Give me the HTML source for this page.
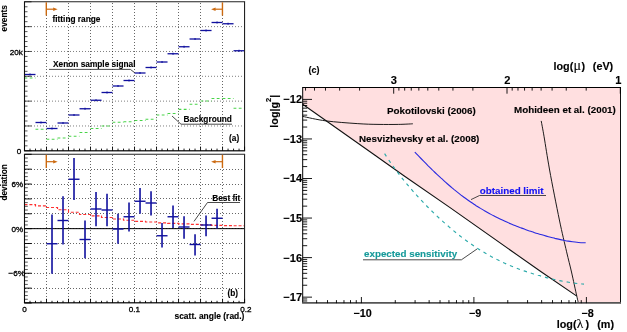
<!DOCTYPE html><html><head><meta charset="utf-8"><style>html,body{margin:0;padding:0;background:#fff}svg{display:block;will-change:transform}text{font-family:"Liberation Sans",sans-serif;font-weight:bold;fill:#000;stroke:#000;stroke-width:0.12px}.r{font-weight:normal;stroke-width:0.32px}</style></head><body>
<svg width="627" height="332" viewBox="0 0 627 332">
<rect width="627" height="332" fill="#fff"/>
<line x1="46.50" y1="3" x2="46.50" y2="150.8" stroke="#000" stroke-opacity="0.6" stroke-width="1" stroke-dasharray="1 2"/>
<line x1="68.50" y1="3" x2="68.50" y2="150.8" stroke="#000" stroke-opacity="0.6" stroke-width="1" stroke-dasharray="1 2"/>
<line x1="90.50" y1="3" x2="90.50" y2="150.8" stroke="#000" stroke-opacity="0.6" stroke-width="1" stroke-dasharray="1 2"/>
<line x1="112.50" y1="3" x2="112.50" y2="150.8" stroke="#000" stroke-opacity="0.6" stroke-width="1" stroke-dasharray="1 2"/>
<line x1="134.50" y1="3" x2="134.50" y2="150.8" stroke="#000" stroke-opacity="0.6" stroke-width="1" stroke-dasharray="1 2"/>
<line x1="156.50" y1="3" x2="156.50" y2="150.8" stroke="#000" stroke-opacity="0.6" stroke-width="1" stroke-dasharray="1 2"/>
<line x1="178.50" y1="3" x2="178.50" y2="150.8" stroke="#000" stroke-opacity="0.6" stroke-width="1" stroke-dasharray="1 2"/>
<line x1="200.50" y1="3" x2="200.50" y2="150.8" stroke="#000" stroke-opacity="0.6" stroke-width="1" stroke-dasharray="1 2"/>
<line x1="222.50" y1="3" x2="222.50" y2="150.8" stroke="#000" stroke-opacity="0.6" stroke-width="1" stroke-dasharray="1 2"/>
<line x1="25" y1="26.63" x2="244.55" y2="26.63" stroke="#000" stroke-opacity="0.5" stroke-width="1" stroke-dasharray="1 2"/>
<line x1="25" y1="51.47" x2="244.55" y2="51.47" stroke="#000" stroke-opacity="0.5" stroke-width="1" stroke-dasharray="1 2"/>
<line x1="25" y1="76.30" x2="244.55" y2="76.30" stroke="#000" stroke-opacity="0.5" stroke-width="1" stroke-dasharray="1 2"/>
<line x1="25" y1="101.13" x2="244.55" y2="101.13" stroke="#000" stroke-opacity="0.5" stroke-width="1" stroke-dasharray="1 2"/>
<line x1="25" y1="125.97" x2="244.55" y2="125.97" stroke="#000" stroke-opacity="0.5" stroke-width="1" stroke-dasharray="1 2"/>
<line x1="24.50" y1="78" x2="35.50" y2="78" stroke="#48d448" stroke-width="1.15" stroke-dasharray="2.8 2.4"/>
<line x1="35.50" y1="129.25" x2="46.51" y2="129.25" stroke="#48d448" stroke-width="1.15" stroke-dasharray="2.8 2.4"/>
<line x1="46.51" y1="139.25" x2="57.51" y2="139.25" stroke="#48d448" stroke-width="1.15" stroke-dasharray="2.8 2.4"/>
<line x1="57.51" y1="138" x2="68.51" y2="138" stroke="#48d448" stroke-width="1.15" stroke-dasharray="2.8 2.4"/>
<line x1="68.51" y1="136.25" x2="79.51" y2="136.25" stroke="#48d448" stroke-width="1.15" stroke-dasharray="2.8 2.4"/>
<line x1="79.51" y1="132.5" x2="90.52" y2="132.5" stroke="#48d448" stroke-width="1.15" stroke-dasharray="2.8 2.4"/>
<line x1="90.52" y1="128.5" x2="101.52" y2="128.5" stroke="#48d448" stroke-width="1.15" stroke-dasharray="2.8 2.4"/>
<line x1="101.52" y1="126" x2="112.52" y2="126" stroke="#48d448" stroke-width="1.15" stroke-dasharray="2.8 2.4"/>
<line x1="112.52" y1="122.25" x2="123.52" y2="122.25" stroke="#48d448" stroke-width="1.15" stroke-dasharray="2.8 2.4"/>
<line x1="123.52" y1="121.75" x2="134.53" y2="121.75" stroke="#48d448" stroke-width="1.15" stroke-dasharray="2.8 2.4"/>
<line x1="134.53" y1="120.5" x2="145.53" y2="120.5" stroke="#48d448" stroke-width="1.15" stroke-dasharray="2.8 2.4"/>
<line x1="145.53" y1="119.25" x2="156.53" y2="119.25" stroke="#48d448" stroke-width="1.15" stroke-dasharray="2.8 2.4"/>
<line x1="156.53" y1="115" x2="167.53" y2="115" stroke="#48d448" stroke-width="1.15" stroke-dasharray="2.8 2.4"/>
<line x1="167.53" y1="113.5" x2="178.54" y2="113.5" stroke="#48d448" stroke-width="1.15" stroke-dasharray="2.8 2.4"/>
<line x1="178.54" y1="109.3" x2="189.54" y2="109.3" stroke="#48d448" stroke-width="1.15" stroke-dasharray="2.8 2.4"/>
<line x1="189.54" y1="104.25" x2="200.54" y2="104.25" stroke="#48d448" stroke-width="1.15" stroke-dasharray="2.8 2.4"/>
<line x1="200.54" y1="101" x2="211.54" y2="101" stroke="#48d448" stroke-width="1.15" stroke-dasharray="2.8 2.4"/>
<line x1="211.54" y1="98.5" x2="222.55" y2="98.5" stroke="#48d448" stroke-width="1.15" stroke-dasharray="2.8 2.4"/>
<line x1="222.55" y1="98.5" x2="233.55" y2="98.5" stroke="#48d448" stroke-width="1.15" stroke-dasharray="2.8 2.4"/>
<line x1="233.55" y1="108.2" x2="244.55" y2="108.2" stroke="#48d448" stroke-width="1.15" stroke-dasharray="2.8 2.4"/>
<line x1="24.50" y1="74.5" x2="35.50" y2="74.5" stroke="#10109e" stroke-width="1.3"/>
<line x1="30.00" y1="73.55" x2="30.00" y2="75.45" stroke="#10109e" stroke-width="1.1"/>
<line x1="35.50" y1="122.5" x2="46.51" y2="122.5" stroke="#10109e" stroke-width="1.3"/>
<line x1="41.00" y1="121.55" x2="41.00" y2="123.45" stroke="#10109e" stroke-width="1.1"/>
<line x1="46.51" y1="128.5" x2="57.51" y2="128.5" stroke="#10109e" stroke-width="1.3"/>
<line x1="52.01" y1="127.55" x2="52.01" y2="129.45" stroke="#10109e" stroke-width="1.1"/>
<line x1="57.51" y1="123" x2="68.51" y2="123" stroke="#10109e" stroke-width="1.3"/>
<line x1="63.01" y1="122.05" x2="63.01" y2="123.95" stroke="#10109e" stroke-width="1.1"/>
<line x1="68.51" y1="115" x2="79.51" y2="115" stroke="#10109e" stroke-width="1.3"/>
<line x1="74.01" y1="114.05" x2="74.01" y2="115.95" stroke="#10109e" stroke-width="1.1"/>
<line x1="79.51" y1="108.75" x2="90.52" y2="108.75" stroke="#10109e" stroke-width="1.3"/>
<line x1="85.01" y1="107.8" x2="85.01" y2="109.7" stroke="#10109e" stroke-width="1.1"/>
<line x1="90.52" y1="100.25" x2="101.52" y2="100.25" stroke="#10109e" stroke-width="1.3"/>
<line x1="96.02" y1="99.3" x2="96.02" y2="101.2" stroke="#10109e" stroke-width="1.1"/>
<line x1="101.52" y1="92.5" x2="112.52" y2="92.5" stroke="#10109e" stroke-width="1.3"/>
<line x1="107.02" y1="91.55" x2="107.02" y2="93.45" stroke="#10109e" stroke-width="1.1"/>
<line x1="112.52" y1="86" x2="123.52" y2="86" stroke="#10109e" stroke-width="1.3"/>
<line x1="118.02" y1="85.05" x2="118.02" y2="86.95" stroke="#10109e" stroke-width="1.1"/>
<line x1="123.52" y1="80.5" x2="134.53" y2="80.5" stroke="#10109e" stroke-width="1.3"/>
<line x1="129.02" y1="79.55" x2="129.02" y2="81.45" stroke="#10109e" stroke-width="1.1"/>
<line x1="134.53" y1="73" x2="145.53" y2="73" stroke="#10109e" stroke-width="1.3"/>
<line x1="140.03" y1="72.05" x2="140.03" y2="73.95" stroke="#10109e" stroke-width="1.1"/>
<line x1="145.53" y1="67.5" x2="156.53" y2="67.5" stroke="#10109e" stroke-width="1.3"/>
<line x1="151.03" y1="66.55" x2="151.03" y2="68.45" stroke="#10109e" stroke-width="1.1"/>
<line x1="156.53" y1="62" x2="167.53" y2="62" stroke="#10109e" stroke-width="1.3"/>
<line x1="162.03" y1="61.05" x2="162.03" y2="62.95" stroke="#10109e" stroke-width="1.1"/>
<line x1="167.53" y1="53.75" x2="178.54" y2="53.75" stroke="#10109e" stroke-width="1.3"/>
<line x1="173.03" y1="52.8" x2="173.03" y2="54.7" stroke="#10109e" stroke-width="1.1"/>
<line x1="178.54" y1="46.75" x2="189.54" y2="46.75" stroke="#10109e" stroke-width="1.3"/>
<line x1="184.04" y1="45.8" x2="184.04" y2="47.7" stroke="#10109e" stroke-width="1.1"/>
<line x1="189.54" y1="39" x2="200.54" y2="39" stroke="#10109e" stroke-width="1.3"/>
<line x1="195.04" y1="38.05" x2="195.04" y2="39.95" stroke="#10109e" stroke-width="1.1"/>
<line x1="200.54" y1="30.5" x2="211.54" y2="30.5" stroke="#10109e" stroke-width="1.3"/>
<line x1="206.04" y1="29.55" x2="206.04" y2="31.45" stroke="#10109e" stroke-width="1.1"/>
<line x1="211.54" y1="22.5" x2="222.55" y2="22.5" stroke="#10109e" stroke-width="1.3"/>
<line x1="217.04" y1="21.55" x2="217.04" y2="23.45" stroke="#10109e" stroke-width="1.1"/>
<line x1="222.55" y1="23.75" x2="233.55" y2="23.75" stroke="#10109e" stroke-width="1.3"/>
<line x1="228.05" y1="22.8" x2="228.05" y2="24.7" stroke="#10109e" stroke-width="1.1"/>
<line x1="233.55" y1="50.75" x2="244.55" y2="50.75" stroke="#10109e" stroke-width="1.3"/>
<line x1="239.05" y1="49.8" x2="239.05" y2="51.7" stroke="#10109e" stroke-width="1.1"/>
<line x1="23.95" y1="1.8" x2="245.10000000000002" y2="1.8" stroke="#222" stroke-width="1.1"/>
<line x1="24.5" y1="1.8" x2="24.5" y2="150.8" stroke="#111" stroke-width="1.1"/>
<line x1="244.55" y1="1.8" x2="244.55" y2="150.8" stroke="#222" stroke-width="1.1"/>
<line x1="23.95" y1="150.65" x2="245.10000000000002" y2="150.65" stroke="#333" stroke-width="1.5"/>
<line x1="24.50" y1="150.8" x2="24.50" y2="146.60000000000002" stroke="#000" stroke-width="0.9"/>
<line x1="30.00" y1="150.8" x2="30.00" y2="148.60000000000002" stroke="#000" stroke-width="0.9"/>
<line x1="35.50" y1="150.8" x2="35.50" y2="148.60000000000002" stroke="#000" stroke-width="0.9"/>
<line x1="41.00" y1="150.8" x2="41.00" y2="148.60000000000002" stroke="#000" stroke-width="0.9"/>
<line x1="46.51" y1="150.8" x2="46.51" y2="146.60000000000002" stroke="#000" stroke-width="0.9"/>
<line x1="52.01" y1="150.8" x2="52.01" y2="148.60000000000002" stroke="#000" stroke-width="0.9"/>
<line x1="57.51" y1="150.8" x2="57.51" y2="148.60000000000002" stroke="#000" stroke-width="0.9"/>
<line x1="63.01" y1="150.8" x2="63.01" y2="148.60000000000002" stroke="#000" stroke-width="0.9"/>
<line x1="68.51" y1="150.8" x2="68.51" y2="146.60000000000002" stroke="#000" stroke-width="0.9"/>
<line x1="74.01" y1="150.8" x2="74.01" y2="148.60000000000002" stroke="#000" stroke-width="0.9"/>
<line x1="79.51" y1="150.8" x2="79.51" y2="148.60000000000002" stroke="#000" stroke-width="0.9"/>
<line x1="85.01" y1="150.8" x2="85.01" y2="148.60000000000002" stroke="#000" stroke-width="0.9"/>
<line x1="90.52" y1="150.8" x2="90.52" y2="146.60000000000002" stroke="#000" stroke-width="0.9"/>
<line x1="96.02" y1="150.8" x2="96.02" y2="148.60000000000002" stroke="#000" stroke-width="0.9"/>
<line x1="101.52" y1="150.8" x2="101.52" y2="148.60000000000002" stroke="#000" stroke-width="0.9"/>
<line x1="107.02" y1="150.8" x2="107.02" y2="148.60000000000002" stroke="#000" stroke-width="0.9"/>
<line x1="112.52" y1="150.8" x2="112.52" y2="146.60000000000002" stroke="#000" stroke-width="0.9"/>
<line x1="118.02" y1="150.8" x2="118.02" y2="148.60000000000002" stroke="#000" stroke-width="0.9"/>
<line x1="123.52" y1="150.8" x2="123.52" y2="148.60000000000002" stroke="#000" stroke-width="0.9"/>
<line x1="129.02" y1="150.8" x2="129.02" y2="148.60000000000002" stroke="#000" stroke-width="0.9"/>
<line x1="134.53" y1="150.8" x2="134.53" y2="146.60000000000002" stroke="#000" stroke-width="0.9"/>
<line x1="140.03" y1="150.8" x2="140.03" y2="148.60000000000002" stroke="#000" stroke-width="0.9"/>
<line x1="145.53" y1="150.8" x2="145.53" y2="148.60000000000002" stroke="#000" stroke-width="0.9"/>
<line x1="151.03" y1="150.8" x2="151.03" y2="148.60000000000002" stroke="#000" stroke-width="0.9"/>
<line x1="156.53" y1="150.8" x2="156.53" y2="146.60000000000002" stroke="#000" stroke-width="0.9"/>
<line x1="162.03" y1="150.8" x2="162.03" y2="148.60000000000002" stroke="#000" stroke-width="0.9"/>
<line x1="167.53" y1="150.8" x2="167.53" y2="148.60000000000002" stroke="#000" stroke-width="0.9"/>
<line x1="173.03" y1="150.8" x2="173.03" y2="148.60000000000002" stroke="#000" stroke-width="0.9"/>
<line x1="178.54" y1="150.8" x2="178.54" y2="146.60000000000002" stroke="#000" stroke-width="0.9"/>
<line x1="184.04" y1="150.8" x2="184.04" y2="148.60000000000002" stroke="#000" stroke-width="0.9"/>
<line x1="189.54" y1="150.8" x2="189.54" y2="148.60000000000002" stroke="#000" stroke-width="0.9"/>
<line x1="195.04" y1="150.8" x2="195.04" y2="148.60000000000002" stroke="#000" stroke-width="0.9"/>
<line x1="200.54" y1="150.8" x2="200.54" y2="146.60000000000002" stroke="#000" stroke-width="0.9"/>
<line x1="206.04" y1="150.8" x2="206.04" y2="148.60000000000002" stroke="#000" stroke-width="0.9"/>
<line x1="211.54" y1="150.8" x2="211.54" y2="148.60000000000002" stroke="#000" stroke-width="0.9"/>
<line x1="217.04" y1="150.8" x2="217.04" y2="148.60000000000002" stroke="#000" stroke-width="0.9"/>
<line x1="222.55" y1="150.8" x2="222.55" y2="146.60000000000002" stroke="#000" stroke-width="0.9"/>
<line x1="228.05" y1="150.8" x2="228.05" y2="148.60000000000002" stroke="#000" stroke-width="0.9"/>
<line x1="233.55" y1="150.8" x2="233.55" y2="148.60000000000002" stroke="#000" stroke-width="0.9"/>
<line x1="239.05" y1="150.8" x2="239.05" y2="148.60000000000002" stroke="#000" stroke-width="0.9"/>
<line x1="244.55" y1="150.8" x2="244.55" y2="146.60000000000002" stroke="#000" stroke-width="0.9"/>
<line x1="24.5" y1="1.80" x2="31.5" y2="1.80" stroke="#000" stroke-opacity="0.72" stroke-width="0.95"/>
<line x1="24.5" y1="6.77" x2="27.5" y2="6.77" stroke="#000" stroke-opacity="0.75" stroke-width="0.9"/>
<line x1="24.5" y1="11.73" x2="27.5" y2="11.73" stroke="#000" stroke-opacity="0.75" stroke-width="0.9"/>
<line x1="24.5" y1="16.70" x2="27.5" y2="16.70" stroke="#000" stroke-opacity="0.75" stroke-width="0.9"/>
<line x1="24.5" y1="21.67" x2="27.5" y2="21.67" stroke="#000" stroke-opacity="0.75" stroke-width="0.9"/>
<line x1="24.5" y1="26.63" x2="31.5" y2="26.63" stroke="#000" stroke-opacity="0.72" stroke-width="0.95"/>
<line x1="24.5" y1="31.60" x2="27.5" y2="31.60" stroke="#000" stroke-opacity="0.75" stroke-width="0.9"/>
<line x1="24.5" y1="36.57" x2="27.5" y2="36.57" stroke="#000" stroke-opacity="0.75" stroke-width="0.9"/>
<line x1="24.5" y1="41.53" x2="27.5" y2="41.53" stroke="#000" stroke-opacity="0.75" stroke-width="0.9"/>
<line x1="24.5" y1="46.50" x2="27.5" y2="46.50" stroke="#000" stroke-opacity="0.75" stroke-width="0.9"/>
<line x1="24.5" y1="51.47" x2="31.5" y2="51.47" stroke="#000" stroke-opacity="0.72" stroke-width="0.95"/>
<line x1="24.5" y1="56.43" x2="27.5" y2="56.43" stroke="#000" stroke-opacity="0.75" stroke-width="0.9"/>
<line x1="24.5" y1="61.40" x2="27.5" y2="61.40" stroke="#000" stroke-opacity="0.75" stroke-width="0.9"/>
<line x1="24.5" y1="66.37" x2="27.5" y2="66.37" stroke="#000" stroke-opacity="0.75" stroke-width="0.9"/>
<line x1="24.5" y1="71.33" x2="27.5" y2="71.33" stroke="#000" stroke-opacity="0.75" stroke-width="0.9"/>
<line x1="24.5" y1="76.30" x2="31.5" y2="76.30" stroke="#000" stroke-opacity="0.72" stroke-width="0.95"/>
<line x1="24.5" y1="81.27" x2="27.5" y2="81.27" stroke="#000" stroke-opacity="0.75" stroke-width="0.9"/>
<line x1="24.5" y1="86.23" x2="27.5" y2="86.23" stroke="#000" stroke-opacity="0.75" stroke-width="0.9"/>
<line x1="24.5" y1="91.20" x2="27.5" y2="91.20" stroke="#000" stroke-opacity="0.75" stroke-width="0.9"/>
<line x1="24.5" y1="96.17" x2="27.5" y2="96.17" stroke="#000" stroke-opacity="0.75" stroke-width="0.9"/>
<line x1="24.5" y1="101.13" x2="31.5" y2="101.13" stroke="#000" stroke-opacity="0.72" stroke-width="0.95"/>
<line x1="24.5" y1="106.10" x2="27.5" y2="106.10" stroke="#000" stroke-opacity="0.75" stroke-width="0.9"/>
<line x1="24.5" y1="111.07" x2="27.5" y2="111.07" stroke="#000" stroke-opacity="0.75" stroke-width="0.9"/>
<line x1="24.5" y1="116.03" x2="27.5" y2="116.03" stroke="#000" stroke-opacity="0.75" stroke-width="0.9"/>
<line x1="24.5" y1="121.00" x2="27.5" y2="121.00" stroke="#000" stroke-opacity="0.75" stroke-width="0.9"/>
<line x1="24.5" y1="125.97" x2="31.5" y2="125.97" stroke="#000" stroke-opacity="0.72" stroke-width="0.95"/>
<line x1="24.5" y1="130.93" x2="27.5" y2="130.93" stroke="#000" stroke-opacity="0.75" stroke-width="0.9"/>
<line x1="24.5" y1="135.90" x2="27.5" y2="135.90" stroke="#000" stroke-opacity="0.75" stroke-width="0.9"/>
<line x1="24.5" y1="140.87" x2="27.5" y2="140.87" stroke="#000" stroke-opacity="0.75" stroke-width="0.9"/>
<line x1="24.5" y1="145.83" x2="27.5" y2="145.83" stroke="#000" stroke-opacity="0.75" stroke-width="0.9"/>
<line x1="24.5" y1="150.80" x2="31.5" y2="150.80" stroke="#000" stroke-opacity="0.72" stroke-width="0.95"/>
<line x1="46.30" y1="2.3" x2="46.30" y2="15.5" stroke="#cc6a10" stroke-width="1.4"/>
<line x1="46.30" y1="9.200000000000001" x2="53.91" y2="9.200000000000001" stroke="#cc6a10" stroke-width="1.2"/>
<path d="M57.61 9.200000000000001 L53.20 7.3999999999999995 L53.20 11.0 Z" fill="#cc6a10"/>
<line x1="222.45" y1="2.3" x2="222.45" y2="15.5" stroke="#cc6a10" stroke-width="1.4"/>
<line x1="222.45" y1="9.200000000000001" x2="214.85" y2="9.200000000000001" stroke="#cc6a10" stroke-width="1.2"/>
<path d="M211.15 9.200000000000001 L215.55 7.3999999999999995 L215.55 11.0 Z" fill="#cc6a10"/>
<text x="52.5" y="21.5" font-size="8.3">fitting range</text>
<text x="53" y="67" font-size="8.3">Xenon sample signal</text>
<path d="M49 69.4 L130.4 69.4 L134.8 72.8" fill="none" stroke="#2a2a2a" stroke-width="0.85"/>
<text x="183.5" y="122" font-size="8.3">Background</text>
<path d="M232 124.2 L181 124.2 L172 116" fill="none" stroke="#2a2a2a" stroke-width="0.85"/>
<text x="229" y="141" font-size="8.3">(a)</text>
<text x="22.9" y="54.8" font-size="8.1" class="r" text-anchor="end">20k</text>
<text x="21.3" y="153.7" font-size="8.1" class="r" text-anchor="end">0</text>
<text transform="translate(7.3,31.4) rotate(-90)" font-size="8.3">events</text>
<line x1="46.50" y1="155" x2="46.50" y2="303.0" stroke="#000" stroke-opacity="0.6" stroke-width="1" stroke-dasharray="1 2"/>
<line x1="68.50" y1="155" x2="68.50" y2="303.0" stroke="#000" stroke-opacity="0.6" stroke-width="1" stroke-dasharray="1 2"/>
<line x1="90.50" y1="155" x2="90.50" y2="303.0" stroke="#000" stroke-opacity="0.6" stroke-width="1" stroke-dasharray="1 2"/>
<line x1="112.50" y1="155" x2="112.50" y2="303.0" stroke="#000" stroke-opacity="0.6" stroke-width="1" stroke-dasharray="1 2"/>
<line x1="134.50" y1="155" x2="134.50" y2="303.0" stroke="#000" stroke-opacity="0.6" stroke-width="1" stroke-dasharray="1 2"/>
<line x1="156.50" y1="155" x2="156.50" y2="303.0" stroke="#000" stroke-opacity="0.6" stroke-width="1" stroke-dasharray="1 2"/>
<line x1="178.50" y1="155" x2="178.50" y2="303.0" stroke="#000" stroke-opacity="0.6" stroke-width="1" stroke-dasharray="1 2"/>
<line x1="200.50" y1="155" x2="200.50" y2="303.0" stroke="#000" stroke-opacity="0.6" stroke-width="1" stroke-dasharray="1 2"/>
<line x1="222.50" y1="155" x2="222.50" y2="303.0" stroke="#000" stroke-opacity="0.6" stroke-width="1" stroke-dasharray="1 2"/>
<line x1="25" y1="169.50" x2="244.55" y2="169.50" stroke="#000" stroke-opacity="0.6" stroke-width="1" stroke-dasharray="1 2"/>
<line x1="25" y1="184.50" x2="244.55" y2="184.50" stroke="#000" stroke-opacity="0.6" stroke-width="1" stroke-dasharray="1 2"/>
<line x1="25" y1="198.50" x2="244.55" y2="198.50" stroke="#000" stroke-opacity="0.6" stroke-width="1" stroke-dasharray="1 2"/>
<line x1="25" y1="213.50" x2="244.55" y2="213.50" stroke="#000" stroke-opacity="0.6" stroke-width="1" stroke-dasharray="1 2"/>
<line x1="25" y1="228.50" x2="244.55" y2="228.50" stroke="#000" stroke-opacity="0.6" stroke-width="1" stroke-dasharray="1 2"/>
<line x1="25" y1="243.50" x2="244.55" y2="243.50" stroke="#000" stroke-opacity="0.6" stroke-width="1" stroke-dasharray="1 2"/>
<line x1="25" y1="258.50" x2="244.55" y2="258.50" stroke="#000" stroke-opacity="0.6" stroke-width="1" stroke-dasharray="1 2"/>
<line x1="25" y1="273.50" x2="244.55" y2="273.50" stroke="#000" stroke-opacity="0.6" stroke-width="1" stroke-dasharray="1 2"/>
<line x1="25" y1="288.50" x2="244.55" y2="288.50" stroke="#000" stroke-opacity="0.6" stroke-width="1" stroke-dasharray="1 2"/>
<line x1="24.5" y1="228.65" x2="244.55" y2="228.65" stroke="#000" stroke-width="1"/>
<path d="M24.50 204.6 L24.50 204.6 L35.50 204.6 L35.50 205.8 L46.51 205.8 L46.51 207.5 L57.51 207.5 L57.51 209.75 L68.51 209.75 L68.51 212.2 L79.51 212.2 L79.51 214.5 L90.52 214.5 L90.52 215.9 L101.52 215.9 L101.52 217.5 L112.52 217.5 L112.52 219 L123.52 219 L123.52 220.25 L134.53 220.25 L134.53 221.4 L145.53 221.4 L145.53 222 L156.53 222 L156.53 222.85 L167.53 222.85 L167.53 223.4 L178.54 223.4 L178.54 223.9 L189.54 223.9 L189.54 224.4 L200.54 224.4 L200.54 224.9 L211.54 224.9 L211.54 225.3 L222.55 225.3 L222.55 225.55 L233.55 225.55 L233.55 225.75 L244.55 225.75" fill="none" stroke="#ff3030" stroke-width="1.15" stroke-dasharray="3 1.9"/>
<line x1="46.51" y1="243.75" x2="57.51" y2="243.75" stroke="#10109e" stroke-width="1.4"/>
<line x1="52.01" y1="214.5" x2="52.01" y2="273.75" stroke="#10109e" stroke-width="1.6"/>
<line x1="57.51" y1="220.5" x2="68.51" y2="220.5" stroke="#10109e" stroke-width="1.4"/>
<line x1="63.01" y1="196.25" x2="63.01" y2="244.5" stroke="#10109e" stroke-width="1.6"/>
<line x1="68.51" y1="179.25" x2="79.51" y2="179.25" stroke="#10109e" stroke-width="1.4"/>
<line x1="74.01" y1="158" x2="74.01" y2="200" stroke="#10109e" stroke-width="1.6"/>
<line x1="79.51" y1="239.5" x2="90.51" y2="239.5" stroke="#10109e" stroke-width="1.4"/>
<line x1="85.01" y1="220.5" x2="85.01" y2="258.25" stroke="#10109e" stroke-width="1.6"/>
<line x1="90.52" y1="209" x2="101.52" y2="209" stroke="#10109e" stroke-width="1.4"/>
<line x1="96.02" y1="192" x2="96.02" y2="226.25" stroke="#10109e" stroke-width="1.6"/>
<line x1="101.52" y1="210" x2="112.52" y2="210" stroke="#10109e" stroke-width="1.4"/>
<line x1="107.02" y1="193.75" x2="107.02" y2="226.25" stroke="#10109e" stroke-width="1.6"/>
<line x1="112.52" y1="229" x2="123.52" y2="229" stroke="#10109e" stroke-width="1.4"/>
<line x1="118.02" y1="213.75" x2="118.02" y2="243.75" stroke="#10109e" stroke-width="1.6"/>
<line x1="123.52" y1="216.75" x2="134.52" y2="216.75" stroke="#10109e" stroke-width="1.4"/>
<line x1="129.02" y1="202.5" x2="129.02" y2="231.5" stroke="#10109e" stroke-width="1.6"/>
<line x1="134.53" y1="201.25" x2="145.53" y2="201.25" stroke="#10109e" stroke-width="1.4"/>
<line x1="140.03" y1="188" x2="140.03" y2="213.75" stroke="#10109e" stroke-width="1.6"/>
<line x1="145.53" y1="203" x2="156.53" y2="203" stroke="#10109e" stroke-width="1.4"/>
<line x1="151.03" y1="191.25" x2="151.03" y2="215.5" stroke="#10109e" stroke-width="1.6"/>
<line x1="156.53" y1="235.75" x2="167.53" y2="235.75" stroke="#10109e" stroke-width="1.4"/>
<line x1="162.03" y1="223" x2="162.03" y2="247.5" stroke="#10109e" stroke-width="1.6"/>
<line x1="167.53" y1="216.75" x2="178.53" y2="216.75" stroke="#10109e" stroke-width="1.4"/>
<line x1="173.03" y1="205.5" x2="173.03" y2="228" stroke="#10109e" stroke-width="1.6"/>
<line x1="178.54" y1="227" x2="189.54" y2="227" stroke="#10109e" stroke-width="1.4"/>
<line x1="184.04" y1="216.25" x2="184.04" y2="238.75" stroke="#10109e" stroke-width="1.6"/>
<line x1="189.54" y1="244.5" x2="200.54" y2="244.5" stroke="#10109e" stroke-width="1.4"/>
<line x1="195.04" y1="234.25" x2="195.04" y2="255.5" stroke="#10109e" stroke-width="1.6"/>
<line x1="200.54" y1="225" x2="211.54" y2="225" stroke="#10109e" stroke-width="1.4"/>
<line x1="206.04" y1="215.5" x2="206.04" y2="236.25" stroke="#10109e" stroke-width="1.6"/>
<line x1="211.54" y1="218.25" x2="222.54" y2="218.25" stroke="#10109e" stroke-width="1.4"/>
<line x1="217.04" y1="208.75" x2="217.04" y2="228.75" stroke="#10109e" stroke-width="1.6"/>
<line x1="23.95" y1="154.3" x2="245.10000000000002" y2="154.3" stroke="#222" stroke-width="1.1"/>
<line x1="24.5" y1="154.3" x2="24.5" y2="303.0" stroke="#111" stroke-width="1.1"/>
<line x1="244.55" y1="154.3" x2="244.55" y2="303.0" stroke="#222" stroke-width="1.1"/>
<line x1="23.95" y1="302.85" x2="245.10000000000002" y2="302.85" stroke="#333" stroke-width="1.5"/>
<line x1="24.50" y1="303.0" x2="24.50" y2="298.8" stroke="#000" stroke-width="0.9"/>
<line x1="30.00" y1="303.0" x2="30.00" y2="300.8" stroke="#000" stroke-width="0.9"/>
<line x1="35.50" y1="303.0" x2="35.50" y2="300.8" stroke="#000" stroke-width="0.9"/>
<line x1="41.00" y1="303.0" x2="41.00" y2="300.8" stroke="#000" stroke-width="0.9"/>
<line x1="46.51" y1="303.0" x2="46.51" y2="298.8" stroke="#000" stroke-width="0.9"/>
<line x1="52.01" y1="303.0" x2="52.01" y2="300.8" stroke="#000" stroke-width="0.9"/>
<line x1="57.51" y1="303.0" x2="57.51" y2="300.8" stroke="#000" stroke-width="0.9"/>
<line x1="63.01" y1="303.0" x2="63.01" y2="300.8" stroke="#000" stroke-width="0.9"/>
<line x1="68.51" y1="303.0" x2="68.51" y2="298.8" stroke="#000" stroke-width="0.9"/>
<line x1="74.01" y1="303.0" x2="74.01" y2="300.8" stroke="#000" stroke-width="0.9"/>
<line x1="79.51" y1="303.0" x2="79.51" y2="300.8" stroke="#000" stroke-width="0.9"/>
<line x1="85.01" y1="303.0" x2="85.01" y2="300.8" stroke="#000" stroke-width="0.9"/>
<line x1="90.52" y1="303.0" x2="90.52" y2="298.8" stroke="#000" stroke-width="0.9"/>
<line x1="96.02" y1="303.0" x2="96.02" y2="300.8" stroke="#000" stroke-width="0.9"/>
<line x1="101.52" y1="303.0" x2="101.52" y2="300.8" stroke="#000" stroke-width="0.9"/>
<line x1="107.02" y1="303.0" x2="107.02" y2="300.8" stroke="#000" stroke-width="0.9"/>
<line x1="112.52" y1="303.0" x2="112.52" y2="298.8" stroke="#000" stroke-width="0.9"/>
<line x1="118.02" y1="303.0" x2="118.02" y2="300.8" stroke="#000" stroke-width="0.9"/>
<line x1="123.52" y1="303.0" x2="123.52" y2="300.8" stroke="#000" stroke-width="0.9"/>
<line x1="129.02" y1="303.0" x2="129.02" y2="300.8" stroke="#000" stroke-width="0.9"/>
<line x1="134.53" y1="303.0" x2="134.53" y2="298.8" stroke="#000" stroke-width="0.9"/>
<line x1="140.03" y1="303.0" x2="140.03" y2="300.8" stroke="#000" stroke-width="0.9"/>
<line x1="145.53" y1="303.0" x2="145.53" y2="300.8" stroke="#000" stroke-width="0.9"/>
<line x1="151.03" y1="303.0" x2="151.03" y2="300.8" stroke="#000" stroke-width="0.9"/>
<line x1="156.53" y1="303.0" x2="156.53" y2="298.8" stroke="#000" stroke-width="0.9"/>
<line x1="162.03" y1="303.0" x2="162.03" y2="300.8" stroke="#000" stroke-width="0.9"/>
<line x1="167.53" y1="303.0" x2="167.53" y2="300.8" stroke="#000" stroke-width="0.9"/>
<line x1="173.03" y1="303.0" x2="173.03" y2="300.8" stroke="#000" stroke-width="0.9"/>
<line x1="178.54" y1="303.0" x2="178.54" y2="298.8" stroke="#000" stroke-width="0.9"/>
<line x1="184.04" y1="303.0" x2="184.04" y2="300.8" stroke="#000" stroke-width="0.9"/>
<line x1="189.54" y1="303.0" x2="189.54" y2="300.8" stroke="#000" stroke-width="0.9"/>
<line x1="195.04" y1="303.0" x2="195.04" y2="300.8" stroke="#000" stroke-width="0.9"/>
<line x1="200.54" y1="303.0" x2="200.54" y2="298.8" stroke="#000" stroke-width="0.9"/>
<line x1="206.04" y1="303.0" x2="206.04" y2="300.8" stroke="#000" stroke-width="0.9"/>
<line x1="211.54" y1="303.0" x2="211.54" y2="300.8" stroke="#000" stroke-width="0.9"/>
<line x1="217.04" y1="303.0" x2="217.04" y2="300.8" stroke="#000" stroke-width="0.9"/>
<line x1="222.55" y1="303.0" x2="222.55" y2="298.8" stroke="#000" stroke-width="0.9"/>
<line x1="228.05" y1="303.0" x2="228.05" y2="300.8" stroke="#000" stroke-width="0.9"/>
<line x1="233.55" y1="303.0" x2="233.55" y2="300.8" stroke="#000" stroke-width="0.9"/>
<line x1="239.05" y1="303.0" x2="239.05" y2="300.8" stroke="#000" stroke-width="0.9"/>
<line x1="244.55" y1="303.0" x2="244.55" y2="298.8" stroke="#000" stroke-width="0.9"/>
<line x1="24.5" y1="154.30" x2="31.7" y2="154.30" stroke="#000" stroke-opacity="1" stroke-width="0.95"/>
<line x1="24.5" y1="158.02" x2="27.8" y2="158.02" stroke="#000" stroke-opacity="0.75" stroke-width="0.9"/>
<line x1="24.5" y1="161.74" x2="27.8" y2="161.74" stroke="#000" stroke-opacity="0.75" stroke-width="0.9"/>
<line x1="24.5" y1="165.45" x2="27.8" y2="165.45" stroke="#000" stroke-opacity="0.75" stroke-width="0.9"/>
<line x1="24.5" y1="169.17" x2="31.7" y2="169.17" stroke="#000" stroke-opacity="1" stroke-width="0.95"/>
<line x1="24.5" y1="172.89" x2="27.8" y2="172.89" stroke="#000" stroke-opacity="0.75" stroke-width="0.9"/>
<line x1="24.5" y1="176.61" x2="27.8" y2="176.61" stroke="#000" stroke-opacity="0.75" stroke-width="0.9"/>
<line x1="24.5" y1="180.32" x2="27.8" y2="180.32" stroke="#000" stroke-opacity="0.75" stroke-width="0.9"/>
<line x1="24.5" y1="184.04" x2="31.7" y2="184.04" stroke="#000" stroke-opacity="1" stroke-width="0.95"/>
<line x1="24.5" y1="187.76" x2="27.8" y2="187.76" stroke="#000" stroke-opacity="0.75" stroke-width="0.9"/>
<line x1="24.5" y1="191.48" x2="27.8" y2="191.48" stroke="#000" stroke-opacity="0.75" stroke-width="0.9"/>
<line x1="24.5" y1="195.19" x2="27.8" y2="195.19" stroke="#000" stroke-opacity="0.75" stroke-width="0.9"/>
<line x1="24.5" y1="198.91" x2="31.7" y2="198.91" stroke="#000" stroke-opacity="1" stroke-width="0.95"/>
<line x1="24.5" y1="202.63" x2="27.8" y2="202.63" stroke="#000" stroke-opacity="0.75" stroke-width="0.9"/>
<line x1="24.5" y1="206.34" x2="27.8" y2="206.34" stroke="#000" stroke-opacity="0.75" stroke-width="0.9"/>
<line x1="24.5" y1="210.06" x2="27.8" y2="210.06" stroke="#000" stroke-opacity="0.75" stroke-width="0.9"/>
<line x1="24.5" y1="213.78" x2="31.7" y2="213.78" stroke="#000" stroke-opacity="1" stroke-width="0.95"/>
<line x1="24.5" y1="217.50" x2="27.8" y2="217.50" stroke="#000" stroke-opacity="0.75" stroke-width="0.9"/>
<line x1="24.5" y1="221.22" x2="27.8" y2="221.22" stroke="#000" stroke-opacity="0.75" stroke-width="0.9"/>
<line x1="24.5" y1="224.93" x2="27.8" y2="224.93" stroke="#000" stroke-opacity="0.75" stroke-width="0.9"/>
<line x1="24.5" y1="228.65" x2="31.7" y2="228.65" stroke="#000" stroke-opacity="1" stroke-width="0.95"/>
<line x1="24.5" y1="232.37" x2="27.8" y2="232.37" stroke="#000" stroke-opacity="0.75" stroke-width="0.9"/>
<line x1="24.5" y1="236.09" x2="27.8" y2="236.09" stroke="#000" stroke-opacity="0.75" stroke-width="0.9"/>
<line x1="24.5" y1="239.80" x2="27.8" y2="239.80" stroke="#000" stroke-opacity="0.75" stroke-width="0.9"/>
<line x1="24.5" y1="243.52" x2="31.7" y2="243.52" stroke="#000" stroke-opacity="1" stroke-width="0.95"/>
<line x1="24.5" y1="247.24" x2="27.8" y2="247.24" stroke="#000" stroke-opacity="0.75" stroke-width="0.9"/>
<line x1="24.5" y1="250.96" x2="27.8" y2="250.96" stroke="#000" stroke-opacity="0.75" stroke-width="0.9"/>
<line x1="24.5" y1="254.67" x2="27.8" y2="254.67" stroke="#000" stroke-opacity="0.75" stroke-width="0.9"/>
<line x1="24.5" y1="258.39" x2="31.7" y2="258.39" stroke="#000" stroke-opacity="1" stroke-width="0.95"/>
<line x1="24.5" y1="262.11" x2="27.8" y2="262.11" stroke="#000" stroke-opacity="0.75" stroke-width="0.9"/>
<line x1="24.5" y1="265.83" x2="27.8" y2="265.83" stroke="#000" stroke-opacity="0.75" stroke-width="0.9"/>
<line x1="24.5" y1="269.54" x2="27.8" y2="269.54" stroke="#000" stroke-opacity="0.75" stroke-width="0.9"/>
<line x1="24.5" y1="273.26" x2="31.7" y2="273.26" stroke="#000" stroke-opacity="1" stroke-width="0.95"/>
<line x1="24.5" y1="276.98" x2="27.8" y2="276.98" stroke="#000" stroke-opacity="0.75" stroke-width="0.9"/>
<line x1="24.5" y1="280.69" x2="27.8" y2="280.69" stroke="#000" stroke-opacity="0.75" stroke-width="0.9"/>
<line x1="24.5" y1="284.41" x2="27.8" y2="284.41" stroke="#000" stroke-opacity="0.75" stroke-width="0.9"/>
<line x1="24.5" y1="288.13" x2="31.7" y2="288.13" stroke="#000" stroke-opacity="1" stroke-width="0.95"/>
<line x1="24.5" y1="291.85" x2="27.8" y2="291.85" stroke="#000" stroke-opacity="0.75" stroke-width="0.9"/>
<line x1="24.5" y1="295.56" x2="27.8" y2="295.56" stroke="#000" stroke-opacity="0.75" stroke-width="0.9"/>
<line x1="24.5" y1="299.28" x2="27.8" y2="299.28" stroke="#000" stroke-opacity="0.75" stroke-width="0.9"/>
<line x1="24.5" y1="303.00" x2="31.7" y2="303.00" stroke="#000" stroke-opacity="1" stroke-width="0.95"/>
<line x1="46.30" y1="154.8" x2="46.30" y2="168.0" stroke="#cc6a10" stroke-width="1.4"/>
<line x1="46.30" y1="161.70000000000002" x2="53.91" y2="161.70000000000002" stroke="#cc6a10" stroke-width="1.2"/>
<path d="M57.61 161.70000000000002 L53.20 159.9 L53.20 163.5 Z" fill="#cc6a10"/>
<line x1="222.45" y1="154.8" x2="222.45" y2="168.0" stroke="#cc6a10" stroke-width="1.4"/>
<line x1="222.45" y1="161.70000000000002" x2="214.85" y2="161.70000000000002" stroke="#cc6a10" stroke-width="1.2"/>
<path d="M211.15 161.70000000000002 L215.55 159.9 L215.55 163.5 Z" fill="#cc6a10"/>
<text x="212.2" y="201.2" font-size="8.3">Best fit</text>
<path d="M240 202.5 L207.5 202.5 L194 221.4" fill="none" stroke="#2a2a2a" stroke-width="0.85"/>
<text x="227.5" y="296" font-size="8.3">(b)</text>
<text x="23.3" y="187.2" font-size="8.1" class="r" text-anchor="end">6%</text>
<text x="23.3" y="232" font-size="8.1" class="r" text-anchor="end">0%</text>
<text x="25" y="276.2" font-size="8.1" class="r" text-anchor="end">−6%</text>
<text transform="translate(7.2,200.6) rotate(-90)" font-size="8.3">deviation</text>
<text x="24.5" y="311.5" font-size="8.1" class="r" text-anchor="middle">0</text>
<text x="134.5" y="311.5" font-size="8.1" class="r" text-anchor="middle">0.1</text>
<text x="246" y="311.5" font-size="8.1" class="r" text-anchor="middle">0.2</text>
<text transform="translate(244.4,318.8) scale(1,1.05)" font-size="8.46" text-anchor="end">scatt. angle (rad.)</text>
<polygon points="302.7,87.5 620.4,87.5 620.4,303.2 578.4,303.2 576.8,296.1 541.1,271.8 449.7,207.4 403.9,175.8 375,155.2 302.7,104.3" fill="#ffdfe0"/>
<polyline points="302.7,104.3 375.0,155.2 403.9,175.8 449.7,207.4 541.1,271.8 576.8,296.1" fill="none" stroke="#111" stroke-width="1.08"/>
<path d="M541.2 120.9 C541.7 123.6 542.7 128.6 544.1 136.8 C545.5 145.0 547.1 156.1 549.6 170.0 C552.1 183.9 556.6 206.4 559.4 220.0 C562.2 233.6 564.6 243.1 566.6 251.8 C568.6 260.5 569.8 264.6 571.5 272.0 C573.2 279.4 575.6 291.0 576.8 296.1 C577.9 301.2 578.1 301.7 578.4 302.8" fill="none" stroke="#111" stroke-width="0.95"/>
<path d="M302.7 116.4 C306.6 117.2 316.9 119.7 326.0 120.9 C335.1 122.1 348.5 123.0 357.2 123.6 C365.9 124.2 371.1 124.3 378.0 124.4 C384.9 124.5 392.9 124.5 398.7 124.4 C404.5 124.3 410.4 123.9 412.8 123.8" fill="none" stroke="#111" stroke-width="0.95"/>
<path d="M414.8 152.2 C415.5 153.0 417.7 155.2 419.2 156.7 C420.6 158.2 422.1 159.7 423.6 161.2 C425.0 162.6 426.5 164.1 427.9 165.6 C429.4 167.0 430.9 168.4 432.3 169.9 C433.8 171.3 435.2 172.7 436.7 174.1 C438.2 175.5 439.6 176.8 441.1 178.2 C442.6 179.5 444.0 180.8 445.5 182.1 C446.9 183.4 448.4 184.7 449.9 186.0 C451.3 187.2 452.8 188.4 454.2 189.6 C455.7 190.8 457.2 192.0 458.6 193.1 C460.1 194.3 461.5 195.4 463.0 196.5 C464.5 197.6 465.9 198.7 467.4 199.7 C468.8 200.8 470.3 201.8 471.8 202.8 C473.2 203.8 474.7 204.7 476.1 205.7 C477.6 206.6 479.1 207.5 480.5 208.4 C482.0 209.3 483.5 210.2 484.9 211.0 C486.4 211.9 487.8 212.7 489.3 213.5 C490.8 214.3 492.2 215.1 493.7 215.8 C495.1 216.6 496.6 217.3 498.1 218.0 C499.5 218.8 501.0 219.5 502.4 220.1 C503.9 220.8 505.4 221.5 506.8 222.1 C508.3 222.8 509.7 223.4 511.2 224.0 C512.7 224.6 514.1 225.2 515.6 225.8 C517.0 226.4 518.5 226.9 520.0 227.5 C521.4 228.0 522.9 228.6 524.4 229.1 C525.8 229.6 527.3 230.1 528.7 230.7 C530.2 231.2 531.7 231.6 533.1 232.1 C534.6 232.6 536.0 233.1 537.5 233.5 C539.0 234.0 540.4 234.4 541.9 234.8 C543.3 235.3 544.8 235.7 546.3 236.1 C547.7 236.5 549.2 236.9 550.6 237.3 C552.1 237.7 553.6 238.0 555.0 238.4 C556.5 238.7 557.9 239.1 559.4 239.4 C560.9 239.7 562.3 240.0 563.8 240.3 C565.3 240.6 566.7 240.9 568.2 241.1 C569.6 241.4 571.1 241.6 572.6 241.8 C574.0 242.0 575.5 242.2 576.9 242.3 C578.4 242.5 579.9 242.6 581.3 242.7 C582.8 242.7 585.0 242.8 585.7 242.8" fill="none" stroke="#2a2ae0" stroke-width="1.1"/>
<path d="M384.6 153.7 C385.5 155.0 388.0 158.9 389.7 161.4 C391.4 163.9 393.1 166.3 394.8 168.6 C396.5 170.9 398.2 173.2 399.9 175.4 C401.6 177.6 403.3 179.7 405.1 181.8 C406.8 183.9 408.5 185.9 410.2 187.9 C411.9 189.9 413.6 191.9 415.3 193.8 C417.0 195.7 418.7 197.5 420.4 199.4 C422.1 201.2 423.8 203.0 425.5 204.7 C427.2 206.5 428.9 208.2 430.6 209.9 C432.3 211.6 434.0 213.2 435.7 214.9 C437.4 216.5 439.1 218.1 440.8 219.7 C442.5 221.2 444.2 222.7 446.0 224.2 C447.7 225.7 449.4 227.2 451.1 228.7 C452.8 230.1 454.5 231.5 456.2 232.9 C457.9 234.2 459.6 235.6 461.3 236.9 C463.0 238.2 464.7 239.5 466.4 240.7 C468.1 242.0 469.8 243.2 471.5 244.3 C473.2 245.5 474.9 246.7 476.6 247.8 C478.3 248.9 480.0 250.0 481.7 251.0 C483.4 252.1 485.2 253.1 486.9 254.1 C488.6 255.0 490.3 256.0 492.0 256.9 C493.7 257.8 495.4 258.7 497.1 259.6 C498.8 260.4 500.5 261.3 502.2 262.1 C503.9 262.9 505.6 263.6 507.3 264.4 C509.0 265.1 510.7 265.8 512.4 266.5 C514.1 267.2 515.8 267.9 517.5 268.5 C519.2 269.2 520.9 269.8 522.6 270.4 C524.4 271.0 526.1 271.6 527.8 272.1 C529.5 272.7 531.2 273.2 532.9 273.7 C534.6 274.3 536.3 274.8 538.0 275.3 C539.7 275.7 541.4 276.2 543.1 276.7 C544.8 277.1 546.5 277.6 548.2 278.0 C549.9 278.4 551.6 278.8 553.3 279.2 C555.0 279.6 556.7 280.0 558.4 280.4 C560.1 280.7 561.8 281.1 563.5 281.4 C565.3 281.7 567.0 282.0 568.7 282.3 C570.4 282.6 572.1 282.9 573.8 283.1 C575.5 283.3 577.2 283.5 578.9 283.7 C580.6 283.9 583.1 284.0 584.0 284.1" fill="none" stroke="#2caaaa" stroke-width="1.15" stroke-dasharray="3.4 4.0"/>
<line x1="302.7" y1="87.5" x2="302.7" y2="303.2" stroke="#000" stroke-width="1.0"/>
<line x1="620.5" y1="87.5" x2="620.5" y2="303.2" stroke="#111" stroke-width="1.0"/>
<line x1="302.2" y1="87.5" x2="621" y2="87.5" stroke="#000" stroke-width="1.05"/>
<line x1="302.2" y1="302.85" x2="621" y2="302.85" stroke="#555" stroke-width="1.7"/>
<line x1="302.7" y1="300.98" x2="307.2" y2="300.98" stroke="#000" stroke-width="0.9"/>
<line x1="302.7" y1="298.96" x2="307.2" y2="298.96" stroke="#000" stroke-width="0.9"/>
<line x1="302.7" y1="297.15" x2="312.0" y2="297.15" stroke="#000" stroke-width="0.9"/>
<line x1="302.7" y1="285.24" x2="307.2" y2="285.24" stroke="#000" stroke-width="0.9"/>
<line x1="302.7" y1="278.28" x2="307.2" y2="278.28" stroke="#000" stroke-width="0.9"/>
<line x1="302.7" y1="273.34" x2="307.2" y2="273.34" stroke="#000" stroke-width="0.9"/>
<line x1="302.7" y1="269.51" x2="307.2" y2="269.51" stroke="#000" stroke-width="0.9"/>
<line x1="302.7" y1="266.37" x2="307.2" y2="266.37" stroke="#000" stroke-width="0.9"/>
<line x1="302.7" y1="263.73" x2="307.2" y2="263.73" stroke="#000" stroke-width="0.9"/>
<line x1="302.7" y1="261.43" x2="307.2" y2="261.43" stroke="#000" stroke-width="0.9"/>
<line x1="302.7" y1="259.41" x2="307.2" y2="259.41" stroke="#000" stroke-width="0.9"/>
<line x1="302.7" y1="257.60" x2="312.0" y2="257.60" stroke="#000" stroke-width="0.9"/>
<line x1="302.7" y1="245.69" x2="307.2" y2="245.69" stroke="#000" stroke-width="0.9"/>
<line x1="302.7" y1="238.73" x2="307.2" y2="238.73" stroke="#000" stroke-width="0.9"/>
<line x1="302.7" y1="233.79" x2="307.2" y2="233.79" stroke="#000" stroke-width="0.9"/>
<line x1="302.7" y1="229.96" x2="307.2" y2="229.96" stroke="#000" stroke-width="0.9"/>
<line x1="302.7" y1="226.82" x2="307.2" y2="226.82" stroke="#000" stroke-width="0.9"/>
<line x1="302.7" y1="224.18" x2="307.2" y2="224.18" stroke="#000" stroke-width="0.9"/>
<line x1="302.7" y1="221.88" x2="307.2" y2="221.88" stroke="#000" stroke-width="0.9"/>
<line x1="302.7" y1="219.86" x2="307.2" y2="219.86" stroke="#000" stroke-width="0.9"/>
<line x1="302.7" y1="218.05" x2="312.0" y2="218.05" stroke="#000" stroke-width="0.9"/>
<line x1="302.7" y1="206.14" x2="307.2" y2="206.14" stroke="#000" stroke-width="0.9"/>
<line x1="302.7" y1="199.18" x2="307.2" y2="199.18" stroke="#000" stroke-width="0.9"/>
<line x1="302.7" y1="194.24" x2="307.2" y2="194.24" stroke="#000" stroke-width="0.9"/>
<line x1="302.7" y1="190.41" x2="307.2" y2="190.41" stroke="#000" stroke-width="0.9"/>
<line x1="302.7" y1="187.27" x2="307.2" y2="187.27" stroke="#000" stroke-width="0.9"/>
<line x1="302.7" y1="184.63" x2="307.2" y2="184.63" stroke="#000" stroke-width="0.9"/>
<line x1="302.7" y1="182.33" x2="307.2" y2="182.33" stroke="#000" stroke-width="0.9"/>
<line x1="302.7" y1="180.31" x2="307.2" y2="180.31" stroke="#000" stroke-width="0.9"/>
<line x1="302.7" y1="178.50" x2="312.0" y2="178.50" stroke="#000" stroke-width="0.9"/>
<line x1="302.7" y1="166.59" x2="307.2" y2="166.59" stroke="#000" stroke-width="0.9"/>
<line x1="302.7" y1="159.63" x2="307.2" y2="159.63" stroke="#000" stroke-width="0.9"/>
<line x1="302.7" y1="154.69" x2="307.2" y2="154.69" stroke="#000" stroke-width="0.9"/>
<line x1="302.7" y1="150.86" x2="307.2" y2="150.86" stroke="#000" stroke-width="0.9"/>
<line x1="302.7" y1="147.72" x2="307.2" y2="147.72" stroke="#000" stroke-width="0.9"/>
<line x1="302.7" y1="145.08" x2="307.2" y2="145.08" stroke="#000" stroke-width="0.9"/>
<line x1="302.7" y1="142.78" x2="307.2" y2="142.78" stroke="#000" stroke-width="0.9"/>
<line x1="302.7" y1="140.76" x2="307.2" y2="140.76" stroke="#000" stroke-width="0.9"/>
<line x1="302.7" y1="138.95" x2="312.0" y2="138.95" stroke="#000" stroke-width="0.9"/>
<line x1="302.7" y1="127.04" x2="307.2" y2="127.04" stroke="#000" stroke-width="0.9"/>
<line x1="302.7" y1="120.08" x2="307.2" y2="120.08" stroke="#000" stroke-width="0.9"/>
<line x1="302.7" y1="115.14" x2="307.2" y2="115.14" stroke="#000" stroke-width="0.9"/>
<line x1="302.7" y1="111.31" x2="307.2" y2="111.31" stroke="#000" stroke-width="0.9"/>
<line x1="302.7" y1="108.17" x2="307.2" y2="108.17" stroke="#000" stroke-width="0.9"/>
<line x1="302.7" y1="105.53" x2="307.2" y2="105.53" stroke="#000" stroke-width="0.9"/>
<line x1="302.7" y1="103.23" x2="307.2" y2="103.23" stroke="#000" stroke-width="0.9"/>
<line x1="302.7" y1="101.21" x2="307.2" y2="101.21" stroke="#000" stroke-width="0.9"/>
<line x1="302.7" y1="99.40" x2="312.0" y2="99.40" stroke="#000" stroke-width="0.9"/>
<line x1="316.63" y1="303.2" x2="316.63" y2="300.09999999999997" stroke="#000" stroke-width="0.9"/>
<line x1="327.53" y1="303.2" x2="327.53" y2="300.09999999999997" stroke="#000" stroke-width="0.9"/>
<line x1="336.44" y1="303.2" x2="336.44" y2="300.09999999999997" stroke="#000" stroke-width="0.9"/>
<line x1="343.97" y1="303.2" x2="343.97" y2="300.09999999999997" stroke="#000" stroke-width="0.9"/>
<line x1="350.50" y1="303.2" x2="350.50" y2="300.09999999999997" stroke="#000" stroke-width="0.9"/>
<line x1="356.25" y1="303.2" x2="356.25" y2="300.09999999999997" stroke="#000" stroke-width="0.9"/>
<line x1="361.40" y1="303.2" x2="361.40" y2="297.0" stroke="#000" stroke-width="0.9"/>
<line x1="395.27" y1="303.2" x2="395.27" y2="300.09999999999997" stroke="#000" stroke-width="0.9"/>
<line x1="415.08" y1="303.2" x2="415.08" y2="300.09999999999997" stroke="#000" stroke-width="0.9"/>
<line x1="429.13" y1="303.2" x2="429.13" y2="300.09999999999997" stroke="#000" stroke-width="0.9"/>
<line x1="440.03" y1="303.2" x2="440.03" y2="300.09999999999997" stroke="#000" stroke-width="0.9"/>
<line x1="448.94" y1="303.2" x2="448.94" y2="300.09999999999997" stroke="#000" stroke-width="0.9"/>
<line x1="456.47" y1="303.2" x2="456.47" y2="300.09999999999997" stroke="#000" stroke-width="0.9"/>
<line x1="463.00" y1="303.2" x2="463.00" y2="300.09999999999997" stroke="#000" stroke-width="0.9"/>
<line x1="468.75" y1="303.2" x2="468.75" y2="300.09999999999997" stroke="#000" stroke-width="0.9"/>
<line x1="473.90" y1="303.2" x2="473.90" y2="297.0" stroke="#000" stroke-width="0.9"/>
<line x1="507.77" y1="303.2" x2="507.77" y2="300.09999999999997" stroke="#000" stroke-width="0.9"/>
<line x1="527.58" y1="303.2" x2="527.58" y2="300.09999999999997" stroke="#000" stroke-width="0.9"/>
<line x1="541.63" y1="303.2" x2="541.63" y2="300.09999999999997" stroke="#000" stroke-width="0.9"/>
<line x1="552.53" y1="303.2" x2="552.53" y2="300.09999999999997" stroke="#000" stroke-width="0.9"/>
<line x1="561.44" y1="303.2" x2="561.44" y2="300.09999999999997" stroke="#000" stroke-width="0.9"/>
<line x1="568.97" y1="303.2" x2="568.97" y2="300.09999999999997" stroke="#000" stroke-width="0.9"/>
<line x1="575.50" y1="303.2" x2="575.50" y2="300.09999999999997" stroke="#000" stroke-width="0.9"/>
<line x1="581.25" y1="303.2" x2="581.25" y2="300.09999999999997" stroke="#000" stroke-width="0.9"/>
<line x1="586.40" y1="303.2" x2="586.40" y2="297.0" stroke="#000" stroke-width="0.9"/>
<line x1="620.30" y1="87.5" x2="620.30" y2="93.7" stroke="#000" stroke-width="0.9"/>
<line x1="586.19" y1="87.5" x2="586.19" y2="90.6" stroke="#000" stroke-width="0.9"/>
<line x1="566.24" y1="87.5" x2="566.24" y2="90.6" stroke="#000" stroke-width="0.9"/>
<line x1="552.09" y1="87.5" x2="552.09" y2="90.6" stroke="#000" stroke-width="0.9"/>
<line x1="541.11" y1="87.5" x2="541.11" y2="90.6" stroke="#000" stroke-width="0.9"/>
<line x1="532.14" y1="87.5" x2="532.14" y2="90.6" stroke="#000" stroke-width="0.9"/>
<line x1="524.55" y1="87.5" x2="524.55" y2="90.6" stroke="#000" stroke-width="0.9"/>
<line x1="517.98" y1="87.5" x2="517.98" y2="90.6" stroke="#000" stroke-width="0.9"/>
<line x1="512.18" y1="87.5" x2="512.18" y2="90.6" stroke="#000" stroke-width="0.9"/>
<line x1="507.00" y1="87.5" x2="507.00" y2="93.7" stroke="#000" stroke-width="0.9"/>
<line x1="472.89" y1="87.5" x2="472.89" y2="90.6" stroke="#000" stroke-width="0.9"/>
<line x1="452.94" y1="87.5" x2="452.94" y2="90.6" stroke="#000" stroke-width="0.9"/>
<line x1="438.79" y1="87.5" x2="438.79" y2="90.6" stroke="#000" stroke-width="0.9"/>
<line x1="427.81" y1="87.5" x2="427.81" y2="90.6" stroke="#000" stroke-width="0.9"/>
<line x1="418.84" y1="87.5" x2="418.84" y2="90.6" stroke="#000" stroke-width="0.9"/>
<line x1="411.25" y1="87.5" x2="411.25" y2="90.6" stroke="#000" stroke-width="0.9"/>
<line x1="404.68" y1="87.5" x2="404.68" y2="90.6" stroke="#000" stroke-width="0.9"/>
<line x1="398.88" y1="87.5" x2="398.88" y2="90.6" stroke="#000" stroke-width="0.9"/>
<line x1="393.70" y1="87.5" x2="393.70" y2="93.7" stroke="#000" stroke-width="0.9"/>
<line x1="359.59" y1="87.5" x2="359.59" y2="90.6" stroke="#000" stroke-width="0.9"/>
<line x1="339.64" y1="87.5" x2="339.64" y2="90.6" stroke="#000" stroke-width="0.9"/>
<line x1="325.49" y1="87.5" x2="325.49" y2="90.6" stroke="#000" stroke-width="0.9"/>
<line x1="314.51" y1="87.5" x2="314.51" y2="90.6" stroke="#000" stroke-width="0.9"/>
<line x1="305.54" y1="87.5" x2="305.54" y2="90.6" stroke="#000" stroke-width="0.9"/>
<text x="302.1" y="301.0" font-size="11.1" text-anchor="end">−17</text>
<text x="302.1" y="261.5" font-size="11.1" text-anchor="end">−16</text>
<text x="302.1" y="222.0" font-size="11.1" text-anchor="end">−15</text>
<text x="302.1" y="182.4" font-size="11.1" text-anchor="end">−14</text>
<text x="302.1" y="142.8" font-size="11.1" text-anchor="end">−13</text>
<text x="302.1" y="103.3" font-size="11.1" text-anchor="end">−12</text>
<text x="362.59999999999997" y="316.5" font-size="10.8" text-anchor="middle">−10</text>
<text x="475.09999999999997" y="316.5" font-size="10.8" text-anchor="middle">−9</text>
<text x="587.6" y="316.5" font-size="10.8" text-anchor="middle">−8</text>
<text x="393.9" y="83.7" font-size="11.1" text-anchor="middle">3</text>
<text x="507.4" y="83.7" font-size="11.1" text-anchor="middle">2</text>
<text x="618.4" y="83.7" font-size="11.1" text-anchor="middle">1</text>
<text x="308.5" y="72.6" font-size="9">(c)</text>
<text x="553.5" y="70" font-size="10.8">log(</text>
<text x="573.6" y="70" font-size="14" font-family="Liberation Serif" style="font-family:'Liberation Serif',serif;font-weight:normal;stroke-width:0.1px">μ</text>
<text x="581.6" y="70" font-size="10.8">)</text>
<text x="592.8" y="70" font-size="10.8">(eV)</text>
<text x="556.7" y="327.7" font-size="10.8">log(</text>
<text x="576.8" y="327.7" font-size="13.5" style="font-family:'Liberation Serif',serif;font-weight:normal;stroke-width:0.1px">λ</text>
<text x="585.6" y="327.7" font-size="10.8">)</text>
<text x="597.2" y="327.7" font-size="10.8">(m)</text>
<text transform="translate(278,127.7) rotate(-90)" font-size="10.8">log|g<tspan dy="-6.8" font-size="7.5">2</tspan><tspan dy="6.8">|</tspan></text>
<text x="387" y="114" font-size="9.8">Pokotilovski (2006)</text>
<text x="514" y="113" font-size="9.8">Mohideen et al. (2001)</text>
<text x="359" y="142" font-size="9.8">Nesvizhevsky et al. (2008)</text>
<text x="479.8" y="194" font-size="9.8" style="fill:#1212f5;stroke:#1212f5">obtained limit</text>
<path d="M546 195.5 L479.5 195.5 L471 199.6" fill="none" stroke="#2a2a2a" stroke-width="0.85"/>
<text x="364" y="257" font-size="9.8" style="fill:#169a9a;stroke:#169a9a">expected sensitivity</text>
<path d="M363 259.8 L461.4 259.8 L477 249" fill="none" stroke="#2a2a2a" stroke-width="0.85"/>
</svg></body></html>
